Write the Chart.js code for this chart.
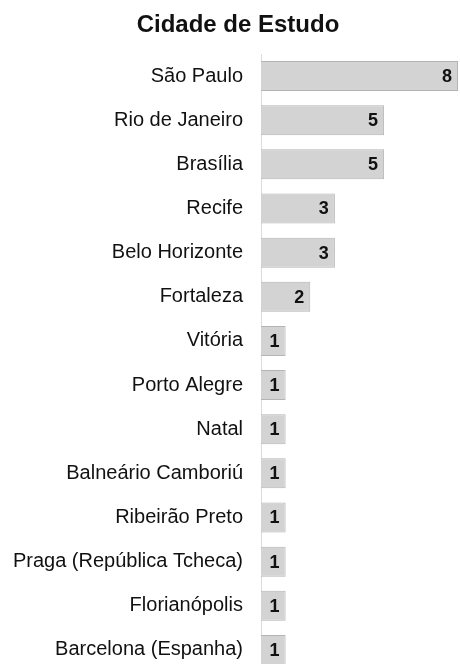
<!DOCTYPE html>
<html>
<head>
<meta charset="utf-8">
<script src="https://cdn.jsdelivr.net/npm/chart.js@4"></script>
<style>
  html, body { margin: 0; padding: 0; background: #fff; overflow: hidden; }
  canvas { display: block; }
</style>
</head>
<body>
<canvas id="chart" width="460" height="702"></canvas>
<script>
// Dados do gráfico
const cities = ['São Paulo', 'Rio de Janeiro', 'Brasília', 'Recife', 'Belo Horizonte', 'Fortaleza',
  'Vitória', 'Porto Alegre', 'Natal', 'Balneário Camboriú', 'Ribeirão Preto',
  'Praga (República Tcheca)', 'Florianópolis', 'Barcelona (Espanha)'];
const counts = [8, 5, 5, 3, 3, 2, 1, 1, 1, 1, 1, 1, 1, 1];
const chartTitle = 'Cidade de Estudo';

const FONT = "'Liberation Sans', Arial, Helvetica, sans-serif";

// value labels inside the end of each bar + title drawn a bit right of centre
const endLabels = {
  id: 'endLabels',
  afterDatasetsDraw(chart) {
    const ctx = chart.ctx;
    const meta = chart.getDatasetMeta(0);
    ctx.save();
    ctx.font = 'bold 18px ' + FONT;
    ctx.fillStyle = '#111';
    ctx.textAlign = 'right';
    ctx.textBaseline = 'middle';
    meta.data.forEach((bar, i) => {
      ctx.fillText(String(counts[i]), bar.x - 6, bar.y + 1);
    });
    ctx.font = 'bold 24px ' + FONT;
    ctx.textAlign = 'center';
    ctx.fillText(chartTitle, 238, 25);
    ctx.restore();
  }
};

new Chart(document.getElementById('chart'), {
  type: 'bar',
  data: {
    labels: cities,
    datasets: [{
      data: counts,
      backgroundColor: '#d3d3d3',
      borderColor: '#b4b4b4',
      borderWidth: 1,
      barPercentage: 0.68,
      categoryPercentage: 1
    }]
  },
  options: {
    indexAxis: 'y',
    responsive: false,
    animation: false,
    layout: { padding: { left: 0, right: 2, top: 54, bottom: 2 } },
    scales: {
      x: { display: false, min: 0, max: 8 },
      y: {
        afterFit(scale) { scale.width = 261; },
        grid: { display: false, drawTicks: false },
        border: { display: true, color: '#dcdcdc', width: 1 },
        ticks: { color: '#111', padding: 18, autoSkip: false, font: { family: FONT, size: 20 } }
      }
    },
    plugins: {
      legend: { display: false },
      tooltip: { enabled: false },
      title: { display: false }
    }
  },
  plugins: [endLabels]
});
</script>
</body>
</html>
